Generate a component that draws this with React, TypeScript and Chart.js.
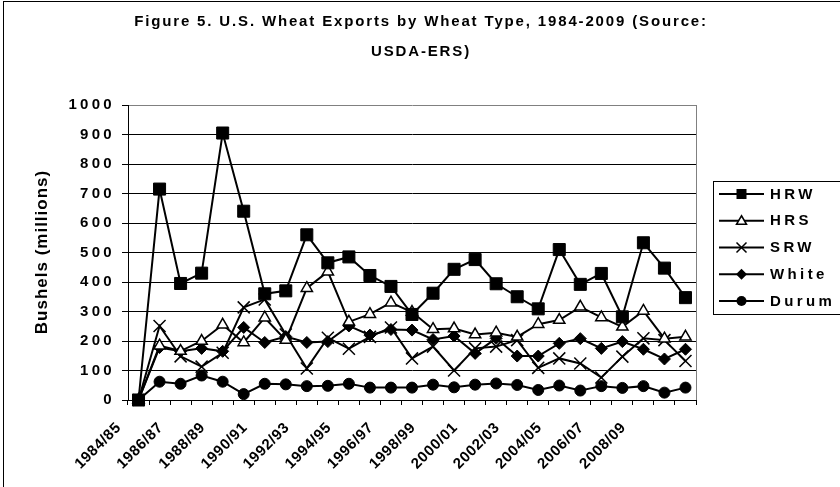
import React, { useEffect, useRef } from 'react';
import { Chart, registerables } from 'chart.js';

Chart.register(...registerables);

const categories = [
  '1984/85', '1985/86', '1986/87', '1987/88', '1988/89', '1989/90', '1990/91',
  '1991/92', '1992/93', '1993/94', '1994/95', '1995/96', '1996/97', '1997/98',
  '1998/99', '1999/00', '2000/01', '2001/02', '2002/03', '2003/04', '2004/05',
  '2005/06', '2006/07', '2007/08', '2008/09', '', '',
];

const HRW = [0, 715, 395, 430, 905, 640, 360, 370, 560, 465, 485, 422, 385, 290, 362, 443, 476, 394, 350, 309, 510, 392, 429, 282, 533, 447, 347];
const HRS = [0, 184, 166, 200, 255, 195, 279, 203, 379, 435, 265, 291, 330, 298, 240, 242, 222, 228, 214, 257, 271, 316, 280, 248, 302, 208, 214];
const SRW = [0, 251, 148, 113, 160, 314, 341, 222, 107, 211, 174, 214, 246, 141, 181, 100, 175, 181, 203, 109, 141, 124, 76, 147, 209, 203, 132];
const White = [0, 178, 165, 175, 165, 246, 195, 215, 195, 198, 251, 220, 239, 237, 205, 217, 158, 209, 149, 149, 192, 208, 175, 198, 172, 139, 172];
const Durum = [0, 62, 55, 83, 62, 20, 55, 53, 47, 48, 55, 42, 42, 42, 52, 43, 52, 56, 51, 34, 49, 32, 47, 41, 47, 25, 42];

const seriesNames = ['HRW', 'HRS', 'SRW', 'White', 'Durum'];
const seriesValues = [HRW, HRS, SRW, White, Durum];
const seriesMarkers = ['rect', 'triangle', 'crossRot', 'rectRot', 'circle'];

const titleLines = ['Figure 5. U.S. Wheat Exports by Wheat Type, 1984-2009 (Source:', 'USDA-ERS)'];
const yAxisTitle = 'Bushels (millions)';
const yMin = 0;
const yMax = 1000;
const yStep = 100;

const FONT = '"Liberation Sans", Arial, Helvetica, sans-serif';

function drawMarker(ctx: CanvasRenderingContext2D, style: string, x: number, y: number) {
  ctx.save();
  ctx.lineWidth = 1.5;
  ctx.strokeStyle = '#000';
  ctx.fillStyle = '#000';
  ctx.beginPath();
  switch (style) {
    case 'rect':
      ctx.rect(x - 5, y - 5, 10, 10);
      ctx.fill();
      break;
    case 'triangle':
      ctx.moveTo(x, y - 5);
      ctx.lineTo(x + 5, y + 3.5);
      ctx.lineTo(x - 5, y + 3.5);
      ctx.closePath();
      ctx.fillStyle = '#fff';
      ctx.fill();
      ctx.stroke();
      break;
    case 'crossRot':
      ctx.moveTo(x - 5, y - 5);
      ctx.lineTo(x + 5, y + 5);
      ctx.moveTo(x + 5, y - 5);
      ctx.lineTo(x - 5, y + 5);
      ctx.stroke();
      break;
    case 'rectRot':
      ctx.moveTo(x, y - 5.5);
      ctx.lineTo(x + 5.5, y);
      ctx.lineTo(x, y + 5.5);
      ctx.lineTo(x - 5.5, y);
      ctx.closePath();
      ctx.fill();
      break;
    default:
      ctx.arc(x, y, 5, 0, Math.PI * 2);
      ctx.fill();
  }
  ctx.restore();
}

const decoPlugin = {
  id: 'deco',
  beforeDraw(chart: any) {
    const ctx = chart.ctx as CanvasRenderingContext2D;
    ctx.save();
    ctx.fillStyle = '#fff';
    ctx.fillRect(0, 0, chart.width, chart.height);
    ctx.restore();
    (ctx as any).letterSpacing = '3.3px';
  },
  afterDraw(chart: any) {
    const ctx = chart.ctx as CanvasRenderingContext2D;
    const area = chart.chartArea;
    const xs = chart.scales.x;
    ctx.save();
    // outer frame
    ctx.strokeStyle = '#000';
    ctx.lineWidth = 1;
    ctx.strokeRect(3.5, 1.5, 1000, 1000);
    // right border of plot
    ctx.strokeStyle = '#808080';
    ctx.beginPath();
    ctx.moveTo(Math.round(area.right) + 0.5, area.top);
    ctx.lineTo(Math.round(area.right) + 0.5, area.bottom);
    ctx.stroke();

    ctx.fillStyle = '#000';
    // title
    ctx.font = `bold 15px ${FONT}`;
    (ctx as any).letterSpacing = '1.85px';
    ctx.textAlign = 'center';
    ctx.textBaseline = 'middle';
    ctx.fillText(titleLines[0], 421, 22);
    ctx.fillText(titleLines[1], 421, 52);

    // y axis title
    ctx.save();
    ctx.font = `bold 17px ${FONT}`;
    (ctx as any).letterSpacing = '1px';
    ctx.translate(42, 252);
    ctx.rotate(-Math.PI / 2);
    ctx.fillText(yAxisTitle, 0, 0);
    ctx.restore();

    // x tick labels
    ctx.font = `bold 15px ${FONT}`;
    (ctx as any).letterSpacing = '0.6px';
    ctx.textAlign = 'right';
    ctx.textBaseline = 'top';
    categories.forEach((c, i) => {
      if (i % 2 !== 0 || !c) return;
      const px = xs.getPixelForValue(i);
      ctx.save();
      ctx.translate(px - 25, 420);
      ctx.rotate(-Math.PI / 4);
      ctx.fillText(c, 0, 0);
      ctx.restore();
    });

    // legend
    const lx = 713.5, ly = 181.5, lw = 130, lh = 133;
    ctx.strokeStyle = '#000';
    ctx.lineWidth = 1;
    ctx.strokeRect(lx, ly, lw, lh);
    ctx.font = `bold 15px ${FONT}`;
    (ctx as any).letterSpacing = '3.4px';
    ctx.textAlign = 'left';
    ctx.textBaseline = 'middle';
    seriesNames.forEach((name, i) => {
      const y = 194 + i * 26.75;
      ctx.strokeStyle = '#000';
      ctx.lineWidth = 2;
      ctx.beginPath();
      ctx.moveTo(719, y);
      ctx.lineTo(764, y);
      ctx.stroke();
      drawMarker(ctx, seriesMarkers[i], 741.5, y);
      ctx.fillStyle = '#000';
      ctx.fillText(name, 770, y + 0.5);
    });
    ctx.restore();
  },
};

const pointCfg = [
  { pointStyle: 'rect', pointRadius: 8.5, pointBackgroundColor: '#000', pointBorderWidth: 1 },
  { pointStyle: 'triangle', pointRadius: 6.5, pointBackgroundColor: '#fff', pointBorderWidth: 1.5 },
  { pointStyle: 'crossRot', pointRadius: 8.5, pointBackgroundColor: '#000', pointBorderWidth: 1.5 },
  { pointStyle: 'rectRot', pointRadius: 6, pointBackgroundColor: '#000', pointBorderWidth: 1 },
  { pointStyle: 'circle', pointRadius: 5.5, pointBackgroundColor: '#000', pointBorderWidth: 1 },
];

export default function App() {
  const canvasRef = useRef<HTMLCanvasElement | null>(null);

  useEffect(() => {
    document.body.style.margin = '0';
    const canvas = canvasRef.current;
    if (!canvas) return;
    const chart = new Chart(canvas, {
      type: 'line',
      data: {
        labels: categories,
        datasets: seriesNames.map((name, i) => ({
          label: name,
          data: seriesValues[i],
          borderColor: '#000',
          borderWidth: 2,
          tension: 0,
          fill: false,
          clip: false as any,
          pointBorderColor: '#000',
          ...pointCfg[i],
        })) as any,
      },
      plugins: [decoPlugin],
      options: {
        responsive: false,
        devicePixelRatio: 1,
        animation: false,
        events: [],
        layout: { padding: { left: 0, top: 105, right: 144, bottom: 0 } },
        plugins: {
          legend: { display: false },
          title: { display: false },
          tooltip: { enabled: false },
        },
        scales: {
          x: {
            type: 'category',
            offset: true,
            grid: {
              display: true,
              drawOnChartArea: false,
              drawTicks: true,
              tickLength: 5,
              color: '#000',
              offset: true,
            },
            border: { display: true, color: '#000', width: 1 },
            ticks: { display: false },
            afterFit: (s: any) => {
              s.height = 87;
            },
          },
          y: {
            min: yMin,
            max: yMax,
            grid: {
              color: (c: any) => (c.tick && c.tick.value === yMax ? '#808080' : '#000'),
              tickColor: '#000',
              tickLength: 6,
              lineWidth: 1,
            },
            border: { display: true, color: '#000', width: 1 },
            ticks: {
              stepSize: yStep,
              color: '#000',
              padding: 7,
              font: { family: FONT, size: 15, weight: 'bold' },
              callback: (v: any) => String(v),
            },
            afterFit: (s: any) => {
              s.width = 128;
            },
          },
        },
      } as any,
    });
    return () => chart.destroy();
  }, []);

  return (
    <div style={{ width: 840, height: 487 }}>
      <canvas ref={canvasRef} width={840} height={487} style={{ display: 'block' }} />
    </div>
  );
}
